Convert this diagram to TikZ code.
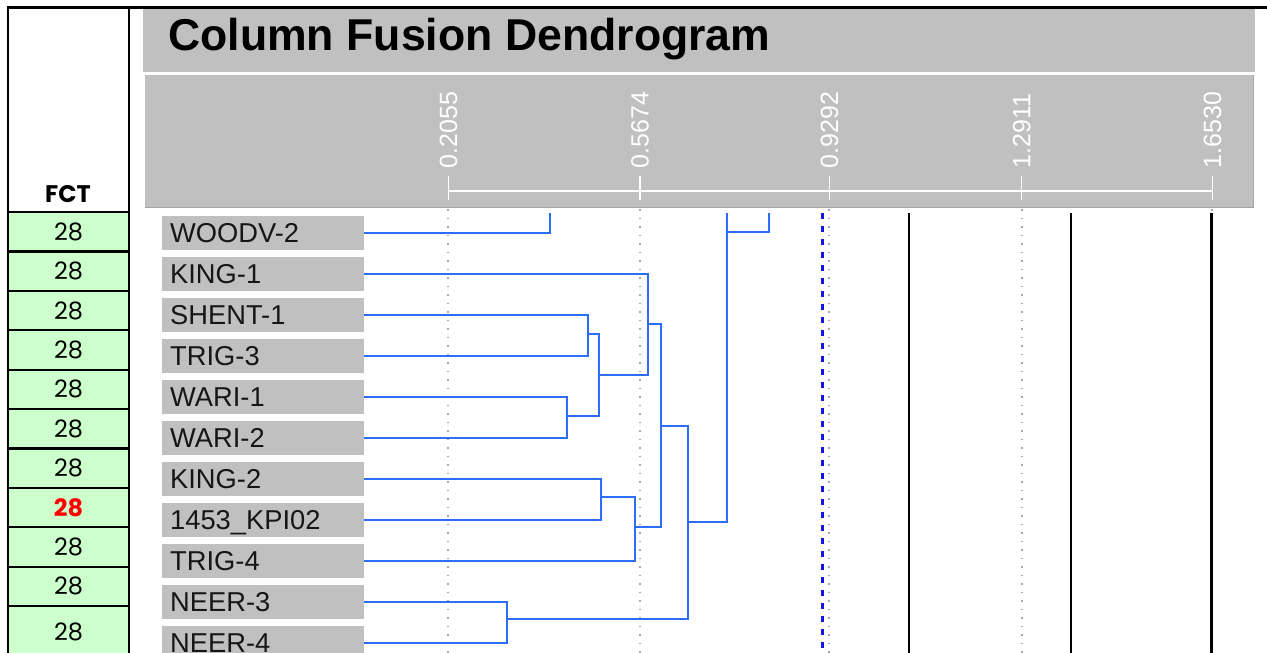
\documentclass[tikz,border=0pt]{standalone}
\usepackage{fontspec}
\setmainfont{Liberation Sans}
\newfontfamily\gothic{Poppins}
\usepackage{xcolor}
\usetikzlibrary{positioning}

\definecolor{panel}{HTML}{C0C0C0}
\definecolor{panelrim}{HTML}{A4A4A4}
\definecolor{fctgreen}{HTML}{CCFFCC}
\definecolor{linkblue}{HTML}{2C6EF8}
\definecolor{cutblue}{HTML}{1414E6}
\definecolor{guidegray}{HTML}{A8A8A8}
\definecolor{labeltext}{HTML}{161616}

\begin{document}
\begin{tikzpicture}[
  x=1pt, y=-1pt,
  node distance=7pt,
  lbl/.style={fill=panel, anchor=north west, inner xsep=8pt, inner ysep=0pt,
              text width=186pt, align=left, minimum height=34pt,
              text height=19.5pt, text depth=0pt, text=labeltext,
              font=\fontsize{27.3}{30}\selectfont},
  cell/.style={draw, line width=2.2pt, fill=fctgreen, minimum width=121pt,
               minimum height=39.4pt, outer sep=0pt, inner sep=0pt,
               text height=17pt, text depth=0pt,
               font=\gothic\fontsize{24}{28}\selectfont},
  ticklbl/.style={rotate=90, anchor=west, inner sep=0pt, text=white,
                  text depth=0pt, font=\fontsize{25}{28}\selectfont},
  link/.style={draw=linkblue, line width=2.2pt},
  guide/.style={draw=guidegray, line width=1.8pt, dash pattern=on 1.8pt off 6.7pt},
  cutline/.style={draw=black, line width=2.2pt},
  thresh/.style={draw=cutblue, line width=2.2pt, dash pattern=on 6pt off 7pt}
]
\clip (0,0) rectangle (1267,653);
\fill[white] (0,0) rectangle (1267,653);

% panels
\fill[panel] (143,9) rectangle (1255,72);
\fill[panel] (145,75) rectangle (1254,208);
\draw[panelrim, line width=1.5pt] (145,207.5) -- (1253.5,207.5) -- (1253.5,75);
\node[anchor=base west, inner sep=0pt, font=\bfseries\fontsize{44.6}{50}\selectfont]
  (title) at (168,50) {Column Fusion Dendrogram};

% distance axis
\draw[white, line width=1.5pt] (448.3,191) -- (1212.3,191);
\foreach \x/\v [count=\k] in {448.3/0.2055, 640/0.5674, 829.3/0.9292,
                              1021.7/1.2911, 1212.3/1.6530} {
  \draw[white, line width=1.5pt] (\x,176) -- (\x,200);
  \node[ticklbl] (tick\k) at (\x,168.5) {\v};
  \draw[guide] (\x,209) -- (\x,653);
}

% FCT column
\draw[line width=2.2pt] (8,212) -- (8,7.5) -- (1267,7.5);
\draw[line width=2.2pt] (129,7.5) -- (129,212);
\node[font=\gothic\bfseries\fontsize{24}{28}\selectfont] (fcthead) at (68,194) {FCT};
\node[cell, anchor=north west] (fct1) at (8,212) {28};
\node[cell, below=0pt of fct1] (fct2) {28};
\node[cell, below=0pt of fct2] (fct3) {28};
\node[cell, below=0pt of fct3] (fct4) {28};
\node[cell, below=0pt of fct4] (fct5) {28};
\node[cell, below=0pt of fct5] (fct6) {28};
\node[cell, below=0pt of fct6] (fct7) {28};
\node[cell, below=0pt of fct7, text=red, font=\gothic\bfseries\fontsize{24}{28}\selectfont] (fct8) {28};
\node[cell, below=0pt of fct8] (fct9) {28};
\node[cell, below=0pt of fct9] (fct10) {28};
\node[cell, below=0pt of fct10, minimum height=52pt] (fct11) {28};

% well labels
\node[lbl] (woodv2) at (162,216) {WOODV-2};
\node[lbl, below=6.6pt of woodv2] (king1) {KING-1};
\node[lbl, below=6.6pt of king1] (shent1) {SHENT-1};
\node[lbl, below=6.6pt of shent1] (trig3) {TRIG-3};
\node[lbl, below=6.6pt of trig3] (wari1) {WARI-1};
\node[lbl, below=6.6pt of wari1] (wari2) {WARI-2};
\node[lbl, below=6.6pt of wari2] (king2) {KING-2};
\node[lbl, below=6.6pt of king2] (kpi02) {1453\_KPI02};
\node[lbl, below=6.6pt of kpi02] (trig4) {TRIG-4};
\node[lbl, below=6.6pt of trig4] (neer3) {NEER-3};
\node[lbl, below=6.6pt of neer3] (neer4) {NEER-4};

% cut levels
\draw[thresh] (822.5,213) -- (822.5,653);
\foreach \x in {909.3, 1070.7, 1211.5}
  \draw[cutline] (\x,213) -- (\x,653);

% fusion points
\coordinate (m1) at (588,334);
\coordinate (m2) at (567,416);
\coordinate (m3) at (599,375);
\coordinate (m4) at (648,324);
\coordinate (m5) at (601,497);
\coordinate (m6) at (635,527);
\coordinate (m7) at (661,426);
\coordinate (m8) at (507,619);
\coordinate (m9) at (688,522);
\coordinate (fork) at (727,232);
\coordinate (top1) at (550,213);
\coordinate (top2) at (727,213);
\coordinate (top3) at (769,213);

\draw[link] (shent1.east) -| (m1) |- (trig3.east);
\draw[link] (wari1.east)  -| (m2) |- (wari2.east);
\draw[link] (m1)          -| (m3) |- (m2);
\draw[link] (king1.east)  -| (m4) |- (m3);
\draw[link] (king2.east)  -| (m5) |- (kpi02.east);
\draw[link] (m5)          -| (m6) |- (trig4.east);
\draw[link] (m4)          -| (m7) |- (m6);
\draw[link] (neer3.east)  -| (m8) |- (neer4.east);
\draw[link] (m7)          -| (m9) |- (m8);
\draw[link] (m9)          -| (top2);
\draw[link] (fork)        -| (top3);
\draw[link] (woodv2.east) -| (top1);
\end{tikzpicture}
\end{document}
